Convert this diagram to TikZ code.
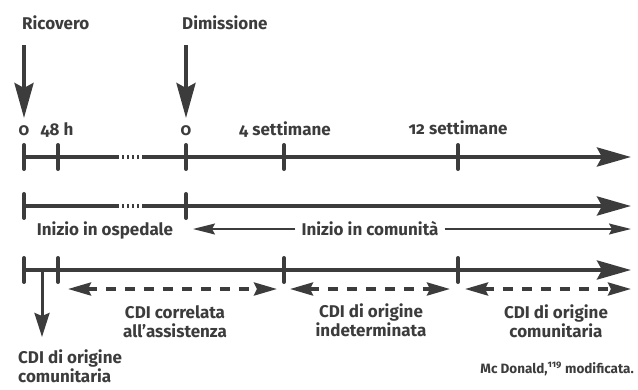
\documentclass[tikz,border=0pt]{standalone}
\usepackage{fontspec}
\setmainfont[Numbers=OldStyle]{Fira Sans}
\usetikzlibrary{arrows.meta, positioning}
\definecolor{ink}{HTML}{3C3C3C}

\begin{document}
\begin{tikzpicture}[x=1pt, y=-1pt,
    every node/.style={inner sep=0pt, text=ink, font=\bfseries\fontsize{17}{19}\selectfont},
    axisline/.style={draw=ink, line width=4pt},
    axisarrow/.style={axisline, -{Stealth[length=34pt, width=19pt, inset=5pt]}},
    gapline/.style={draw=ink, line width=3.5pt, dash pattern=on 2pt off 3pt},
    tickmark/.style={draw=ink, line width=4pt, line cap=round},
    downarrow/.style={axisline, -{Stealth[length=35pt, width=19pt, inset=5pt]}},
    smalldown/.style={draw=ink, line width=3pt, -{Stealth[length=24pt, width=15pt, inset=3pt]}},
    thinarrow/.style={draw=ink, line width=1.5pt, -{Stealth[length=22pt, width=11pt, inset=3pt]}},
    spanarrow/.style={draw=ink, line width=3.5pt, dash pattern=on 10pt off 9pt,
        {Stealth[length=23pt, width=13pt, inset=3pt]}-{Stealth[length=23pt, width=13pt, inset=3pt]}},
    period/.style={align=center, anchor=base}]
    \useasboundingbox (0,0) rectangle (638,389);
    % first line
    \coordinate (a0) at (24,157);
    \coordinate[right=34pt of a0] (a48);
    \coordinate[right=93pt of a0] (ag1);
    \coordinate[right=26pt of ag1] (ag2);
    \coordinate (aD) at (186,157);
    \coordinate (a4) at (284,157);
    \coordinate (a12) at (458,157);
    \coordinate (afin) at (631,157);
    % second line
    \coordinate[below=49pt of a0] (b0);
    \coordinate[below=49pt of ag1] (bg1);
    \coordinate[below=49pt of ag2] (bg2);
    \coordinate[below=49pt of aD] (bD);
    \coordinate[below=49pt of afin] (bfin);
    % third line
    \coordinate[below=64pt of b0] (c0);
    \coordinate[below=113pt of a48] (c48);
    \coordinate[below=113pt of a4] (c4);
    \coordinate[below=113pt of a12] (c12);
    \coordinate[below=113pt of afin] (cfin);
    \coordinate[right=18pt of c0] (cx);
    \coordinate (cxtip) at (42,337);

    \node[anchor=base west] (ricovero) at (22,29) {Ricovero};
    \node[anchor=base west] (dimissione) at (182,29) {Dimissione};
    \coordinate (rtop) at (24,45);
    \coordinate (rtip) at (24,118);
    \coordinate (dtop) at (186,45);
    \coordinate (dtip) at (186,118);
    \draw[downarrow] (rtop) -- (rtip);
    \draw[downarrow] (dtop) -- (dtip);

    \coordinate (lbl) at (0,135);
    \node[anchor=base] (l0) at (a0 |- lbl) {0};
    \node[anchor=base] (l48) at (57,135) {48 h};
    \node[anchor=base] (lD) at (aD |- lbl) {0};
    \node[anchor=base] (l4) at (285,135) {4 settimane};
    \node[anchor=base] (l12) at (458,134) {12 settimane};

    \draw[axisline] (a0) -- (ag1);
    \draw[gapline] (ag1) -- (ag2);
    \draw[axisarrow] (ag2) -- (afin);
    \draw[axisline] (b0) -- (bg1);
    \draw[gapline] (bg1) -- (bg2);
    \draw[axisarrow] (bg2) -- (bfin);
    \draw[axisarrow] (c0) -- (cfin);
    \foreach \p in {a0,a48,aD,a4,a12,b0,bD,c0,c48,c4,c12}
        \draw[tickmark] ([yshift=12pt]\p) -- ([yshift=-12pt]\p);

    \node[anchor=base] (ospedale) at (105,235) {Inizio in ospedale};
    \node[anchor=base, inner xsep=6pt] (comunita) at (370,235) {Inizio in comunità};
    \coordinate (hl) at (193,229);
    \coordinate (hr) at (631,229);
    \draw[thinarrow] (comunita.west |- hl) -- (hl);
    \draw[thinarrow] (comunita.east |- hr) -- (hr);

    \draw[smalldown] (cx) -- (cxtip);
    \coordinate (s1a) at (68,289);
    \coordinate (s1b) at (277,289);
    \coordinate (s2a) at (290,289);
    \coordinate (s2b) at (450,289);
    \coordinate (s3a) at (465,289);
    \coordinate (s3b) at (631,289);
    \draw[spanarrow] (s1a) -- (s1b);
    \draw[spanarrow] (s2a) -- (s2b);
    \draw[spanarrow] (s3a) -- (s3b);

    \node[period] (assistenza) at (175,337) {CDI correlata\\all’assistenza};
    \node[period] (indeterminata) at (371,336) {CDI di origine\\indeterminata};
    \node[period] (comunitaria) at (556,337) {CDI di origine\\comunitaria};
    \node[align=left, anchor=base west] (precoce) at (18,382) {CDI di origine\\comunitaria};
    \node[anchor=base east, font=\bfseries\fontsize{13.5}{15}\selectfont] (fonte) at (634,373)
        {Mc Donald,\textsuperscript{119} modificata.};
\end{tikzpicture}
\end{document}
